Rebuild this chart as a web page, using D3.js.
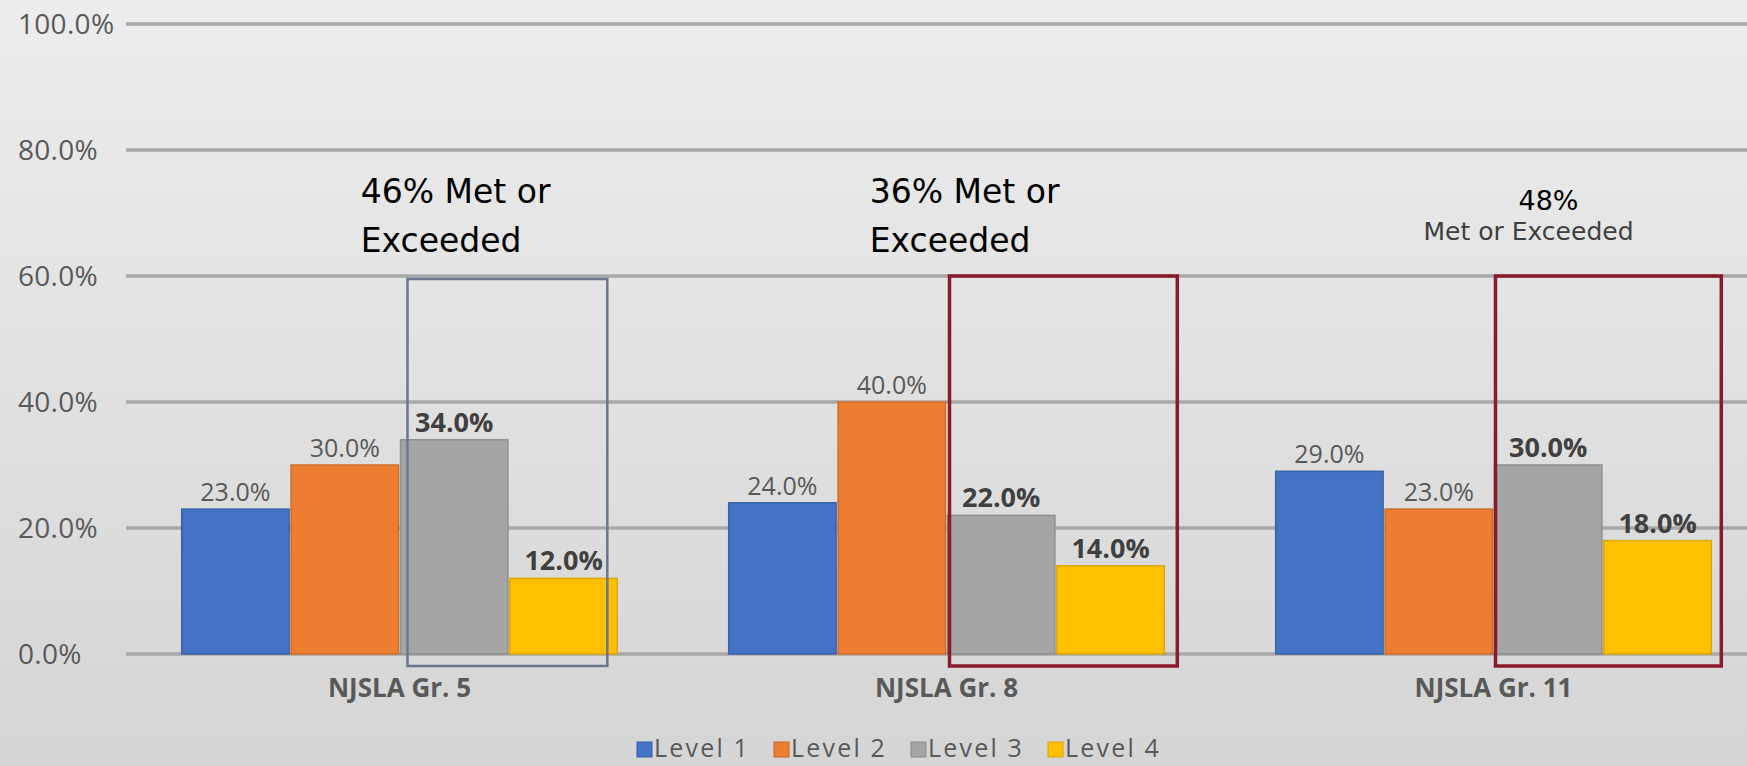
<!DOCTYPE html>
<html>
<head>
<meta charset="utf-8">
<script src="https://cdn.jsdelivr.net/npm/d3@7"></script>
<style>
  html, body { margin: 0; padding: 0; overflow: hidden; }
  svg { display: block; }
</style>
</head>
<body>
<svg class="chart_svg"></svg>
<script>
// data
var categories = ["NJSLA Gr. 5", "NJSLA Gr. 8", "NJSLA Gr. 11"];
var levels = ["Level 1", "Level 2", "Level 3", "Level 4"];
var level1 = [0.23, 0.24, 0.29];
var level2 = [0.30, 0.40, 0.23];
var level3 = [0.34, 0.22, 0.30];
var level4 = [0.12, 0.14, 0.18];
var yTicks = [0, 0.2, 0.4, 0.6, 0.8, 1.0];
var metPct = ["46%", "36%", "48%"];
var metWords = "Met or Exceeded";

var colors = ["#4472c4", "#ed7d31", "#a5a5a5", "#ffc000"];
var W = 1747, H = 766;

var series = [level1, level2, level3, level4];
var rows = categories.map((c, i) => ({ cat: c, vals: series.map((s) => s[i]) }));

var svg = d3.select(".chart_svg").attr("width", W).attr("height", H);

var grad = svg.append("defs").append("linearGradient")
  .attr("id", "bg").attr("x1", 0).attr("y1", 0).attr("x2", 0).attr("y2", 1);
grad.append("stop").attr("offset", "0%").attr("stop-color", "#ededed");
grad.append("stop").attr("offset", "100%").attr("stop-color", "#d5d5d5");
svg.append("rect").attr("width", W).attr("height", H).attr("fill", "url(#bg)");

var x = d3.scaleBand().domain(categories).range([126, 1767]).paddingInner(0.2).paddingOuter(0.1);
var xSub = d3.scaleBand().domain(levels).range([0, x.bandwidth()]);
var y = d3.scaleLinear().domain([0, 1]).range([654, 24]);

// gridlines + y labels
svg.selectAll(".grid").data(yTicks).join("line")
  .attr("class", "grid")
  .attr("x1", 126).attr("x2", W)
  .attr("y1", (d) => y(d)).attr("y2", (d) => y(d))
  .attr("stroke", "#a9a9a9").attr("stroke-width", 3.5);

svg.selectAll(".ylab").data(yTicks).join("text")
  .attr("class", "ylab")
  .attr("x", 18).attr("y", (d) => y(d))
  .attr("dy", "0.36em")
  .attr("font-family", "Open Sans").attr("font-size", 28)
  .attr("letter-spacing", 0.3)
  .attr("fill", "#595959")
  .text((d) => d3.format(".1%")(d));

// bars
var groups = svg.selectAll(".grp").data(rows).join("g")
  .attr("class", "grp")
  .attr("transform", (d) => `translate(${x(d.cat)},0)`);

groups.selectAll("rect").data((d) => d.vals.map((v, j) => ({ v: v, lvl: levels[j], j: j }))).join("rect")
  .attr("x", (d) => xSub(d.lvl) + 1)
  .attr("width", xSub.bandwidth() - 2)
  .attr("y", (d) => y(d.v))
  .attr("height", (d) => y(0) - y(d.v))
  .attr("fill", (d) => colors[d.j])
  .attr("stroke", (d) => d3.color(colors[d.j]).darker(0.4))
  .attr("stroke-width", 1.5);

groups.selectAll(".vlab").data((d) => d.vals.map((v, j) => ({ v: v, lvl: levels[j], j: j }))).join("text")
  .attr("class", "vlab")
  .attr("x", (d) => xSub(d.lvl) + xSub.bandwidth() / 2)
  .attr("y", (d) => y(d.v) - 8)
  .attr("text-anchor", "middle")
  .attr("font-family", "Open Sans")
  .attr("font-size", (d) => (d.j >= 2 ? 27 : 25))
  .attr("font-weight", (d) => (d.j >= 2 ? "bold" : "normal"))
  .attr("fill", (d) => (d.j >= 2 ? "#404040" : "#595959"))
  .text((d) => d3.format(".1%")(d.v));

// category labels
svg.selectAll(".xlab").data(categories).join("text")
  .attr("class", "xlab")
  .attr("x", (d) => x(d) + x.bandwidth() / 2)
  .attr("y", 697)
  .attr("text-anchor", "middle")
  .attr("font-family", "Open Sans").attr("font-size", 26).attr("font-weight", "bold")
  .attr("fill", "#595959")
  .text((d) => d);

// highlight boxes round Level 3 + Level 4
var boxStyle = [
  { color: "#6b7591", sw: 2.5, dl: 8, dr: -11, dt: 3 },
  { color: "#8b1a2c", sw: 3.5, dl: 3, dr: 12, dt: 0 },
  { color: "#8b1a2c", sw: 3.5, dl: 2, dr: 9, dt: 0 }
];
svg.selectAll(".hbox").data(categories).join("rect")
  .attr("class", "hbox")
  .attr("x", (d, i) => x(d) + xSub("Level 3") + boxStyle[i].dl)
  .attr("y", (d, i) => y(0.6) + boxStyle[i].dt)
  .attr("width", (d, i) => xSub("Level 4") + xSub.bandwidth() - xSub("Level 3") - boxStyle[i].dl + boxStyle[i].dr)
  .attr("height", (d, i) => y(0) + 12 - y(0.6) - boxStyle[i].dt)
  .attr("fill", "none")
  .attr("stroke", (d, i) => boxStyle[i].color)
  .attr("stroke-width", (d, i) => boxStyle[i].sw);

// annotations: two-line ones for Gr. 5 and Gr. 8
var noteX = [180, 142];
[0, 1].forEach((i) => {
  var ax = x(categories[i]) + noteX[i];
  var t = svg.append("text")
    .attr("y", 203)
    .attr("font-family", "DejaVu Sans").attr("font-size", 33)
    .attr("fill", "#000");
  t.append("tspan").attr("x", ax).text(metPct[i] + " Met or");
  t.append("tspan").attr("x", ax).attr("dy", 49).text("Exceeded");
});
// Gr. 11 annotation: big number, small caption under it
var c11 = x(categories[2]) + x.bandwidth() / 2 + 55;
svg.append("text")
  .attr("x", c11).attr("y", 210)
  .attr("text-anchor", "middle")
  .attr("font-family", "DejaVu Sans").attr("font-size", 27)
  .attr("fill", "#000")
  .text(metPct[2]);
svg.append("text")
  .attr("x", c11 - 20).attr("y", 240)
  .attr("text-anchor", "middle")
  .attr("font-family", "DejaVu Sans").attr("font-size", 25)
  .attr("fill", "#3f3f3f")
  .text(metWords);

// legend
var legend = svg.selectAll(".leg").data(levels).join("g")
  .attr("class", "leg")
  .attr("transform", (d, i) => `translate(${637 + i * 137},0)`);
legend.append("rect")
  .attr("x", 0).attr("y", 742).attr("width", 15).attr("height", 15)
  .attr("fill", (d, i) => colors[i])
  .attr("stroke", (d, i) => d3.color(colors[i]).darker(0.5));
legend.append("text")
  .attr("x", 17).attr("y", 757)
  .attr("font-family", "Open Sans").attr("font-size", 25)
  .attr("letter-spacing", 2.2)
  .attr("fill", "#595959")
  .text((d) => d);
</script>
</body>
</html>
